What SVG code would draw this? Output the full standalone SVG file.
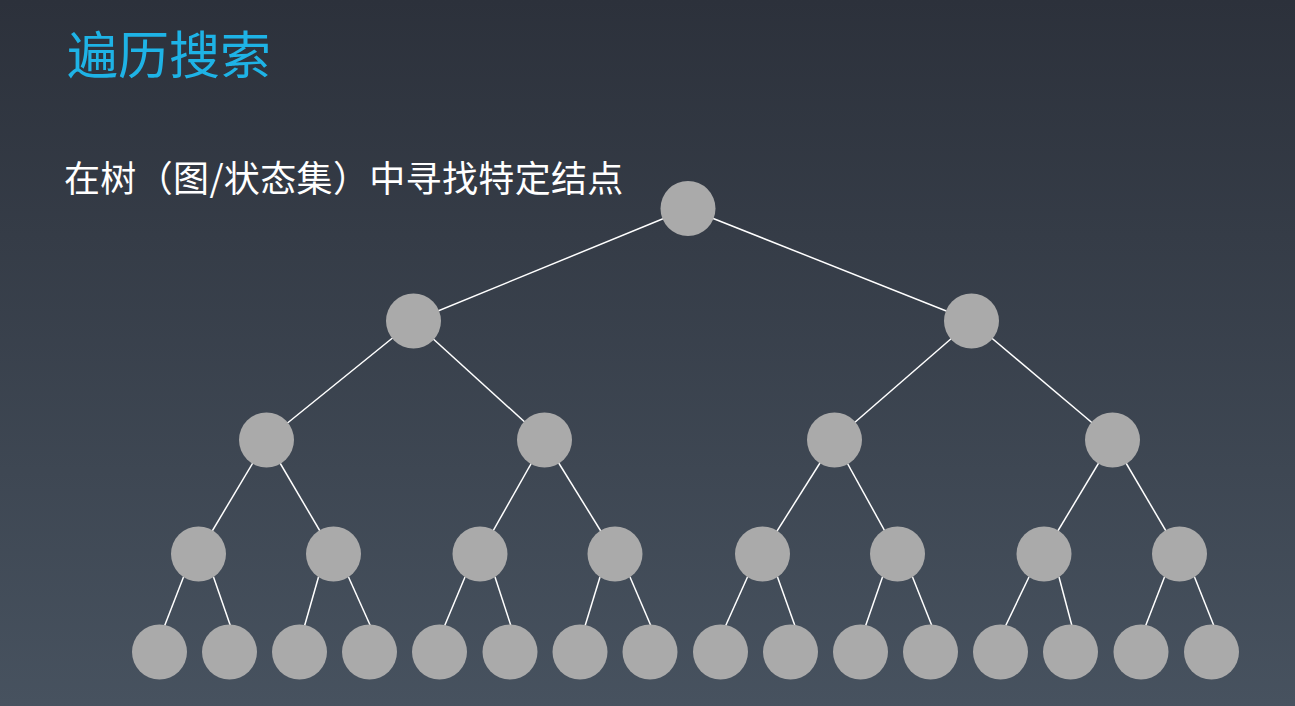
<svg xmlns="http://www.w3.org/2000/svg" width="1295" height="706" viewBox="0 0 1295 706">
  <defs>
    <linearGradient id="bg" x1="0" y1="0" x2="0" y2="1">
      <stop offset="0" stop-color="#2c313b"/>
      <stop offset="1" stop-color="#47525f"/>
    </linearGradient>
  </defs>
  <style>
    .n { fill: #aaaaaa; }
    .e { stroke: #ffffff; stroke-width: 1.5; fill: none; }
    .title { font-family: "Noto Sans CJK SC", "Noto Sans", sans-serif; font-size: 51px; fill: #1eb3e6; }
    .sub { font-family: "Noto Sans CJK SC", "Noto Sans", sans-serif; font-size: 36px; letter-spacing: 0.35px; fill: #ffffff; }
  </style>
  <rect width="1295" height="706" fill="url(#bg)"/>
  <text class="title" x="67" y="74">遍历搜索</text>
  <text class="sub" x="64" y="192">在树（图/状态集）中寻找特定结点</text>
  <g id="connectors">
    <line class="e" x1="688" y1="208.5" x2="413.5" y2="321"/>
    <line class="e" x1="688" y1="208.5" x2="971.5" y2="321"/>
    <line class="e" x1="413.5" y1="321" x2="266.5" y2="440"/>
    <line class="e" x1="413.5" y1="321" x2="544.5" y2="440"/>
    <line class="e" x1="971.5" y1="321" x2="834.5" y2="440"/>
    <line class="e" x1="971.5" y1="321" x2="1112.5" y2="440"/>
    <line class="e" x1="266.5" y1="440" x2="198.5" y2="554"/>
    <line class="e" x1="266.5" y1="440" x2="333.5" y2="554"/>
    <line class="e" x1="544.5" y1="440" x2="480" y2="554"/>
    <line class="e" x1="544.5" y1="440" x2="615" y2="554"/>
    <line class="e" x1="834.5" y1="440" x2="762.5" y2="554"/>
    <line class="e" x1="834.5" y1="440" x2="897.5" y2="554"/>
    <line class="e" x1="1112.5" y1="440" x2="1044" y2="554"/>
    <line class="e" x1="1112.5" y1="440" x2="1179.5" y2="554"/>
    <line class="e" x1="183.5" y1="577" x2="164.5" y2="626"/>
    <line class="e" x1="213.5" y1="577" x2="230.5" y2="626"/>
    <line class="e" x1="318.5" y1="577" x2="304.5" y2="626"/>
    <line class="e" x1="348.5" y1="577" x2="370.5" y2="626"/>
    <line class="e" x1="465" y1="577" x2="444.5" y2="626"/>
    <line class="e" x1="495" y1="577" x2="511" y2="626"/>
    <line class="e" x1="600" y1="577" x2="585" y2="626"/>
    <line class="e" x1="630" y1="577" x2="651" y2="626"/>
    <line class="e" x1="747.5" y1="577" x2="725.5" y2="626"/>
    <line class="e" x1="777.5" y1="577" x2="795" y2="626"/>
    <line class="e" x1="882.5" y1="577" x2="865.5" y2="626"/>
    <line class="e" x1="912.5" y1="577" x2="932" y2="626"/>
    <line class="e" x1="1029" y1="577" x2="1005.5" y2="626"/>
    <line class="e" x1="1059" y1="577" x2="1072" y2="626"/>
    <line class="e" x1="1164.5" y1="577" x2="1145.5" y2="626"/>
    <line class="e" x1="1194.5" y1="577" x2="1214" y2="626"/>
  </g>
  <g id="n0"><circle class="n" cx="688" cy="208.5" r="27.5"/></g>
  <g id="n1"><circle class="n" cx="413.5" cy="321" r="27.5"/></g>
  <g id="n2"><circle class="n" cx="971.5" cy="321" r="27.5"/></g>
  <g id="n3"><circle class="n" cx="266.5" cy="440" r="27.5"/></g>
  <g id="n4"><circle class="n" cx="544.5" cy="440" r="27.5"/></g>
  <g id="n5"><circle class="n" cx="834.5" cy="440" r="27.5"/></g>
  <g id="n6"><circle class="n" cx="1112.5" cy="440" r="27.5"/></g>
  <g id="n7"><circle class="n" cx="198.5" cy="554" r="27.5"/></g>
  <g id="n8"><circle class="n" cx="333.5" cy="554" r="27.5"/></g>
  <g id="n9"><circle class="n" cx="480" cy="554" r="27.5"/></g>
  <g id="n10"><circle class="n" cx="615" cy="554" r="27.5"/></g>
  <g id="n11"><circle class="n" cx="762.5" cy="554" r="27.5"/></g>
  <g id="n12"><circle class="n" cx="897.5" cy="554" r="27.5"/></g>
  <g id="n13"><circle class="n" cx="1044" cy="554" r="27.5"/></g>
  <g id="n14"><circle class="n" cx="1179.5" cy="554" r="27.5"/></g>
  <g id="n15"><circle class="n" cx="159.5" cy="652" r="27.5"/></g>
  <g id="n16"><circle class="n" cx="229.5" cy="652" r="27.5"/></g>
  <g id="n17"><circle class="n" cx="299.5" cy="652" r="27.5"/></g>
  <g id="n18"><circle class="n" cx="369.5" cy="652" r="27.5"/></g>
  <g id="n19"><circle class="n" cx="439.5" cy="652" r="27.5"/></g>
  <g id="n20"><circle class="n" cx="510" cy="652" r="27.5"/></g>
  <g id="n21"><circle class="n" cx="580" cy="652" r="27.5"/></g>
  <g id="n22"><circle class="n" cx="650" cy="652" r="27.5"/></g>
  <g id="n23"><circle class="n" cx="720.5" cy="652" r="27.5"/></g>
  <g id="n24"><circle class="n" cx="790.5" cy="652" r="27.5"/></g>
  <g id="n25"><circle class="n" cx="860.5" cy="652" r="27.5"/></g>
  <g id="n26"><circle class="n" cx="930.5" cy="652" r="27.5"/></g>
  <g id="n27"><circle class="n" cx="1000.5" cy="652" r="27.5"/></g>
  <g id="n28"><circle class="n" cx="1070.5" cy="652" r="27.5"/></g>
  <g id="n29"><circle class="n" cx="1141" cy="652" r="27.5"/></g>
  <g id="n30"><circle class="n" cx="1211.5" cy="652" r="27.5"/></g>
</svg>
